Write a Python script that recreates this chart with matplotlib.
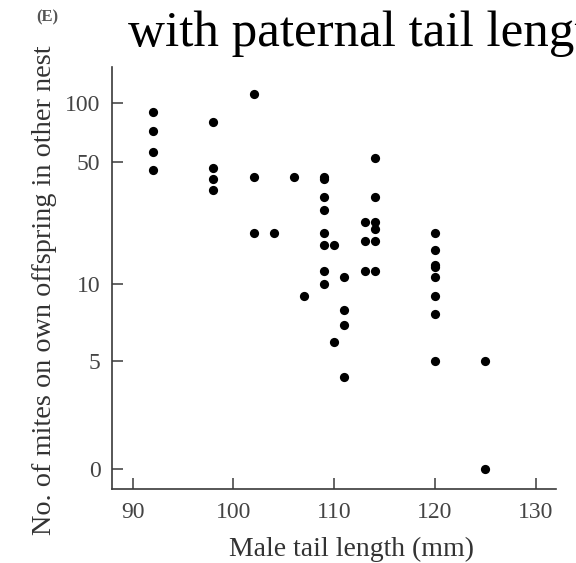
#!/usr/bin/env python
# scatter of mite load on a male's offspring (raised in another nest)
# against the male's tail length, on a stretched count axis
import numpy as np
import matplotlib
matplotlib.use('Agg')
import matplotlib.pyplot as plt

# male tail length (mm)
tail = [92, 92, 92, 92,
        98, 98, 98, 98,
        102, 102, 102, 104, 106, 107,
        109, 109, 109, 109, 109, 109, 109, 109,
        110, 110,
        111, 111, 111, 111,
        113, 113, 113,
        114, 114, 114, 114, 114, 114,
        120, 120, 120, 120, 120, 120, 120, 120,
        125, 125]
# no. of mites on his own offspring in the other nest
mites = [90, 72, 56, 45,
         80, 46, 40, 35,
         112, 41, 20, 20, 41, 9,
         41, 40, 32, 27, 20, 17, 12, 10,
         17, 6,
         11, 8, 7, 3.6,
         23, 18, 12,
         52, 32, 23, 21, 18, 12,
         20, 16, 13, 12.6, 11, 9, 7.7, 5,
         5, 0]

xticks = [90, 100, 110, 120, 130]
yticks = [0, 5, 10, 50, 100]

# the count axis is log(n+1)-ish but drawn by hand, so map it piecewise:
# height (px above the x axis) of each labelled tick
ytick_h = [20, 128, 204.7, 327.3, 385.7]

U = np.log10(np.array(yticks) + 1.0)
H = np.array(ytick_h)
s0 = (H[1] - H[0]) / (U[1] - U[0])
s1 = (H[-1] - H[-2]) / (U[-1] - U[-2])
U_ext = np.concatenate([[U[0] - 1], U, [U[-1] + 1]])
H_ext = np.concatenate([[H[0] - s0], H, [H[-1] + s1]])

def forward(v):
    v = np.asarray(v, dtype=float)
    u = np.log10(np.clip(v, -0.9, None) + 1.0)
    return np.interp(u, U_ext, H_ext)

def inverse(h):
    u = np.interp(np.asarray(h, dtype=float), H_ext, U_ext)
    return 10 ** u - 1.0

serif = 'Liberation Serif'
grey = '#3a3a3a'

fig = plt.figure(figsize=(5.76, 5.63), dpi=100)
ax = fig.add_axes([0.1936, 0.1314, 0.7717, 0.7501])

ax.scatter(tail, mites, s=44, color='black', linewidths=0, zorder=3)

ax.set_yscale('function', functions=(forward, inverse))
ax.set_ylim(inverse(0.0), inverse(422.3))
ax.set_xlim(87.9, 132.0)

ax.set_xticks(xticks)
ax.set_yticks(yticks)
ax.set_xticklabels([str(t) for t in xticks])
ax.set_yticklabels([str(t) for t in yticks])
ax.tick_params(direction='in', length=8, width=1.1, color=grey,
               labelsize=17, labelcolor='#444444')
ax.tick_params(axis='y', pad=8)
ax.tick_params(axis='x', pad=9)
for lab in ax.get_xticklabels() + ax.get_yticklabels():
    lab.set_family(serif)

ax.spines['top'].set_visible(False)
ax.spines['right'].set_visible(False)
for side in ('left', 'bottom'):
    ax.spines[side].set_color(grey)
    ax.spines[side].set_linewidth(1.2)

fig.text(351.5 / 576, 1 - 556 / 563, 'Male tail length (mm)', ha='center',
         va='baseline', fontsize=20, family=serif, color='#333333')
fig.text(45 / 576, 1 - 290 / 563, 'No. of mites on own offspring in other nest',
         ha='center', va='center', rotation=90, fontsize=20.3, family=serif,
         color='#333333')

# panel letter and the caption line above (runs off the right edge)
fig.text(47 / 576, 1 - 17 / 563, '(E)', ha='center', va='center', fontsize=12,
         family=serif, weight='bold', color='#555555')
fig.text(128 / 576, 1 - 46 / 563, 'with paternal tail length', ha='left',
         va='baseline', fontsize=36.8, family=serif, color='black')

fig.savefig('out.png', dpi=100)
